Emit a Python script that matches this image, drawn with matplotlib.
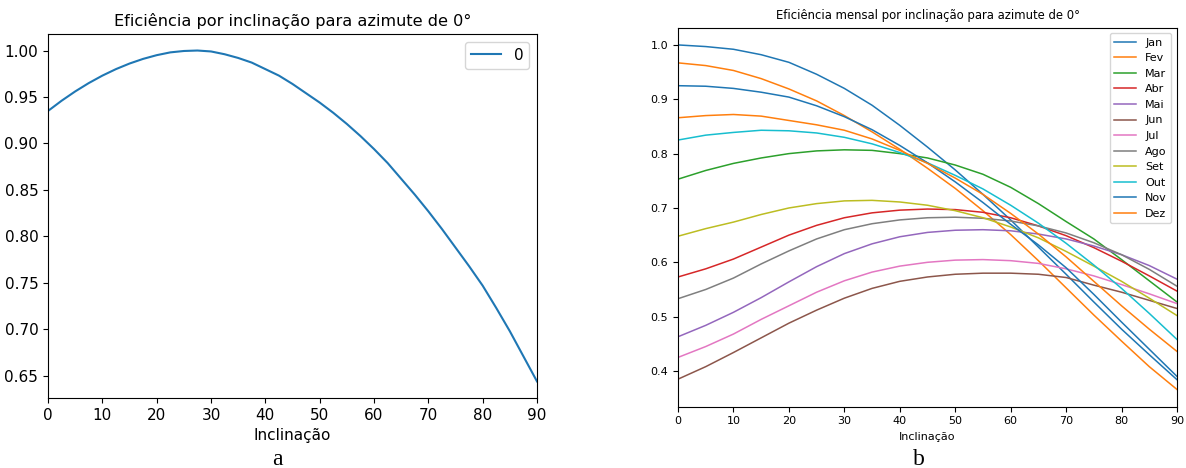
import numpy as np
import matplotlib
matplotlib.use("Agg")
import matplotlib.pyplot as plt

# inclinação (graus): passos de 2,5 para a curva anual, de 5 para as mensais
inclinacao_anual = [i * 2.5 for i in range(37)]
inclinacao = list(range(0, 95, 5))

# eficiência anual, azimute 0
eficiencia_anual = [0.935, 0.946, 0.956, 0.965, 0.973, 0.980, 0.986, 0.991, 0.995, 0.998,
                    0.9995, 1.000, 0.999, 0.996, 0.992, 0.987, 0.980, 0.973, 0.964, 0.954,
                    0.944, 0.933, 0.921, 0.908, 0.894, 0.879, 0.862, 0.845, 0.827, 0.808,
                    0.788, 0.768, 0.747, 0.723, 0.698, 0.671, 0.644]

meses = ['Jan', 'Fev', 'Mar', 'Abr', 'Mai', 'Jun', 'Jul', 'Ago', 'Set', 'Out', 'Nov', 'Dez']

jan = [1.000, 0.997, 0.992, 0.982, 0.968, 0.946, 0.920, 0.889, 0.852, 0.812,
       0.770, 0.725, 0.678, 0.628, 0.578, 0.527, 0.477, 0.430, 0.384]
fev = [0.967, 0.962, 0.953, 0.938, 0.919, 0.897, 0.870, 0.840, 0.808, 0.773,
       0.736, 0.695, 0.651, 0.603, 0.553, 0.503, 0.455, 0.408, 0.366]
mar = [0.753, 0.769, 0.782, 0.792, 0.800, 0.805, 0.807, 0.806, 0.800, 0.792,
       0.779, 0.762, 0.738, 0.708, 0.675, 0.643, 0.605, 0.566, 0.527]
abr = [0.573, 0.588, 0.606, 0.628, 0.650, 0.668, 0.682, 0.691, 0.696, 0.698,
       0.697, 0.692, 0.682, 0.667, 0.649, 0.627, 0.602, 0.575, 0.547]
mai = [0.463, 0.484, 0.508, 0.535, 0.564, 0.592, 0.616, 0.634, 0.647, 0.655,
       0.659, 0.660, 0.658, 0.652, 0.643, 0.630, 0.614, 0.594, 0.569]
jun = [0.385, 0.408, 0.434, 0.461, 0.488, 0.512, 0.534, 0.552, 0.565, 0.573,
       0.578, 0.580, 0.580, 0.578, 0.572, 0.558, 0.545, 0.530, 0.515]
jul = [0.425, 0.445, 0.468, 0.495, 0.520, 0.545, 0.566, 0.582, 0.593, 0.600,
       0.604, 0.605, 0.603, 0.598, 0.588, 0.575, 0.559, 0.542, 0.524]
ago = [0.533, 0.550, 0.571, 0.597, 0.621, 0.643, 0.660, 0.671, 0.678, 0.682,
       0.683, 0.681, 0.676, 0.667, 0.654, 0.636, 0.614, 0.587, 0.556]
set_ = [0.648, 0.662, 0.674, 0.688, 0.700, 0.708, 0.713, 0.714, 0.711, 0.705,
        0.695, 0.682, 0.665, 0.645, 0.620, 0.593, 0.565, 0.534, 0.502]
out = [0.825, 0.834, 0.839, 0.843, 0.842, 0.838, 0.830, 0.818, 0.802, 0.783,
       0.760, 0.735, 0.705, 0.672, 0.635, 0.595, 0.552, 0.506, 0.458]
nov = [0.925, 0.924, 0.920, 0.913, 0.904, 0.888, 0.868, 0.844, 0.815, 0.783,
       0.748, 0.710, 0.670, 0.632, 0.590, 0.541, 0.490, 0.440, 0.390]
dez = [0.866, 0.870, 0.872, 0.869, 0.861, 0.853, 0.843, 0.827, 0.806, 0.782,
       0.755, 0.725, 0.690, 0.652, 0.610, 0.565, 0.520, 0.477, 0.436]

mensal = [jan, fev, mar, abr, mai, jun, jul, ago, set_, out, nov, dez]

fig = plt.figure(figsize=(11.86, 4.68), dpi=100)

# grafico a
ax1 = fig.add_axes([0.0405, 0.1496, 0.4123, 0.7778])
ax1.plot(inclinacao_anual, eficiencia_anual, color='C0', lw=1.5, label='0')
ax1.set_xlim(0, 90)
ax1.set_xticks(range(0, 100, 10))
ax1.set_yticks(np.arange(0.65, 1.001, 0.05))
ax1.yaxis.set_major_formatter(matplotlib.ticker.FormatStrFormatter('%.2f'))
ax1.tick_params(labelsize=11)
ax1.set_title('Eficiência por inclinação para azimute de 0°', fontsize=11.6)
ax1.set_xlabel('Inclinação', fontsize=11)
ax1.legend(loc='upper right', fontsize=11)

# grafico b
ax2 = fig.add_axes([0.5717, 0.131, 0.4207, 0.8098])
for nome, serie in zip(meses, mensal):
    ax2.plot(inclinacao, serie, lw=1.1, label=nome)
ax2.set_xlim(0, 90)
ax2.set_xticks(range(0, 100, 10))
ax2.set_yticks([0.4, 0.5, 0.6, 0.7, 0.8, 0.9, 1.0])
ax2.tick_params(labelsize=8)
ax2.set_title('Eficiência mensal por inclinação para azimute de 0°', fontsize=8.4)
ax2.set_xlabel('Inclinação', fontsize=8)
ax2.legend(loc='upper right', fontsize=8)

fig.text(0.234, 0.006, 'a', family='Liberation Serif', fontsize=17, ha='center')
fig.text(0.775, 0.006, 'b', family='Liberation Serif', fontsize=17, ha='center')

fig.savefig('out.png', dpi=100)
